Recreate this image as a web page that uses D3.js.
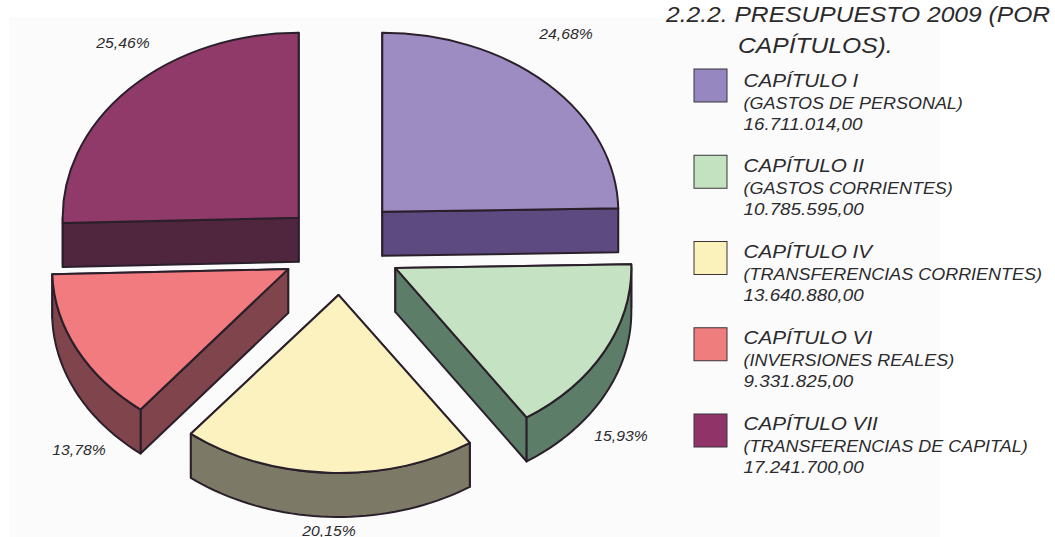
<!DOCTYPE html>
<html>
<head>
<meta charset="utf-8">
<title>Presupuesto 2009</title>
<script src="https://cdn.jsdelivr.net/npm/d3@7"></script>
<style>
  html, body { margin: 0; padding: 0; background: #fff; overflow: hidden; }
  svg { display: block; }
  text { font-family: "Liberation Sans", Arial, sans-serif; font-style: italic; fill: #2b2a2c; }
</style>
</head>
<body>
<svg width="1055" height="537"></svg>
<script>
const categories = ["CAPÍTULO I", "CAPÍTULO II", "CAPÍTULO IV", "CAPÍTULO VI", "CAPÍTULO VII"];
const descriptions = ["(GASTOS DE PERSONAL)", "(GASTOS CORRIENTES)", "(TRANSFERENCIAS CORRIENTES)", "(INVERSIONES REALES)", "(TRANSFERENCIAS DE CAPITAL)"];
const amounts = [16711014, 10785595, 13640880, 9331825, 17241700];
const titleLines = ["2.2.2. PRESUPUESTO 2009 (POR", "CAPÍTULOS)."];

// styling
const faceColors = ["#9c8cc2", "#c5e2c2", "#fbf2bf", "#f17b7e", "#8f3a69"];
const wallColors = ["#5c4a80", "#5c7e68", "#7c7a66", "#80444c", "#50263f"];
const swatchColors = ["#9687c0", "#c3e2c0", "#faf2ba", "#f07d7d", "#8f3369"];
const strokeColor = "#2a1f2a";
const strokeWidth = 2;

// pie geometry: the pie is an ellipse, every slice pulled out along its middle angle
const cx = 341, cy = 246.5, rx = 236, depth = 44;
const explodeX = 59, explodeY = 48.5;
const sliceRy = [179, 180, 178, 180, 185];
const nudgeX = [0, 2, 0, 0, 0];
const nudgeY = [0, -1, 0, 1, 5];
const labelPos = [[566, 39], [621, 441], [329, 535.5], [79, 455], [123, 48]];
const textStretch = 1.1;

const svg = d3.select("svg");
const es = d3.formatLocale({ decimal: ",", thousands: ".", grouping: [3], currency: ["", "€"] });
const formatAmount = es.format(",.2f");
const formatPercent = es.format(".2%");
const total = d3.sum(amounts);

// off-white paper of the scan
svg.append("rect").attr("x", 9).attr("y", 17).attr("width", 931).attr("height", 520).attr("fill", "#fbfbfc");

const pie = d3.pie().sort(null).value(d => d);
const arcs = pie(amounts);
const arc = d3.arc().innerRadius(0).outerRadius(rx);
const line = d3.line();

const slices = svg.selectAll(".slice")
  .data(arcs)
  .enter()
  .append("g")
  .classed("slice", true)
  .attr("transform", (d, i) => {
    const mid = (d.startAngle + d.endAngle) / 2;
    return `translate(${cx + explodeX * Math.sin(mid) + nudgeX[i]},${cy - explodeY * Math.cos(mid) + nudgeY[i]})`;
  });

// point on the rim of a slice, angle clockwise from the top
function rim(angle, i, drop) {
  return [rx * Math.sin(angle), -sliceRy[i] * Math.cos(angle) + drop];
}

function styleWall(sel, i) {
  sel.attr("fill", wallColors[i])
    .attr("stroke", strokeColor)
    .attr("stroke-width", strokeWidth)
    .attr("stroke-linejoin", "round");
}

slices.each(function (d, i) {
  const g = d3.select(this);

  // the two flat cut walls, the one reaching lowest goes last so it hides the other
  [d.startAngle, d.endAngle]
    .sort((a, b) => d3.ascending(-Math.cos(a), -Math.cos(b)))
    .forEach(a => {
      const outer = rim(a, i, 0), outerLow = rim(a, i, depth);
      g.append("path")
        .attr("d", line([[0, 0], outer, outerLow, [0, depth]]) + "Z")
        .call(styleWall, i);
    });

  // rounded outer wall, lower half of the ellipse only
  const from = Math.max(d.startAngle, Math.PI / 2);
  const to = Math.min(d.endAngle, Math.PI * 3 / 2);
  if (to > from) {
    const steps = d3.range(0, 41).map(k => from + (to - from) * k / 40);
    const upper = steps.map(a => rim(a, i, 0));
    const lower = steps.map(a => rim(a, i, depth)).reverse();
    g.append("path")
      .attr("d", line(upper.concat(lower)) + "Z")
      .call(styleWall, i);
  }

  // top face
  g.append("path")
    .attr("d", arc(d))
    .attr("transform", `scale(1,${sliceRy[i] / rx})`)
    .attr("vector-effect", "non-scaling-stroke")
    .attr("fill", faceColors[i])
    .attr("stroke", strokeColor)
    .attr("stroke-width", strokeWidth)
    .attr("stroke-linejoin", "round");
});

// the source image is a little wider than tall, so the type is stretched
function stretched(sel, x, y) {
  return sel.attr("transform", `translate(${x},${y}) scale(${textStretch},1)`);
}

// percentages around the pie
svg.selectAll(".pct")
  .data(amounts)
  .enter()
  .append("text")
  .classed("pct", true)
  .attr("text-anchor", "middle")
  .attr("font-size", 14.3)
  .text(d => formatPercent(d / total))
  .each(function (d, i) { stretched(d3.select(this), labelPos[i][0], labelPos[i][1]); });

// title
svg.append("text").attr("font-size", 22.4).text(titleLines[0]).call(stretched, 666, 22);
svg.append("text").attr("font-size", 22.4).text(titleLines[1]).call(stretched, 738, 53);

// legend
const swatchY = d3.scalePoint().domain(categories).range([69, 414]);
const textY = d3.scalePoint().domain(categories).range([86.5, 430]);

svg.selectAll(".swatch")
  .data(categories)
  .enter()
  .append("rect")
  .classed("swatch", true)
  .attr("x", 694)
  .attr("y", d => swatchY(d))
  .attr("width", 33)
  .attr("height", 33)
  .attr("fill", (d, i) => swatchColors[i])
  .attr("stroke", "#3a3438")
  .attr("stroke-width", 1);

categories.forEach((name, i) => {
  const y = textY(name);
  svg.append("text").attr("font-size", 18.8).text(name).call(stretched, 743.5, y);
  svg.append("text").attr("font-size", 16.35).text(descriptions[i]).call(stretched, 743.5, y + 22);
  svg.append("text").attr("font-size", 17.1).text(formatAmount(amounts[i])).call(stretched, 743.5, y + 43);
});
</script>
</body>
</html>
